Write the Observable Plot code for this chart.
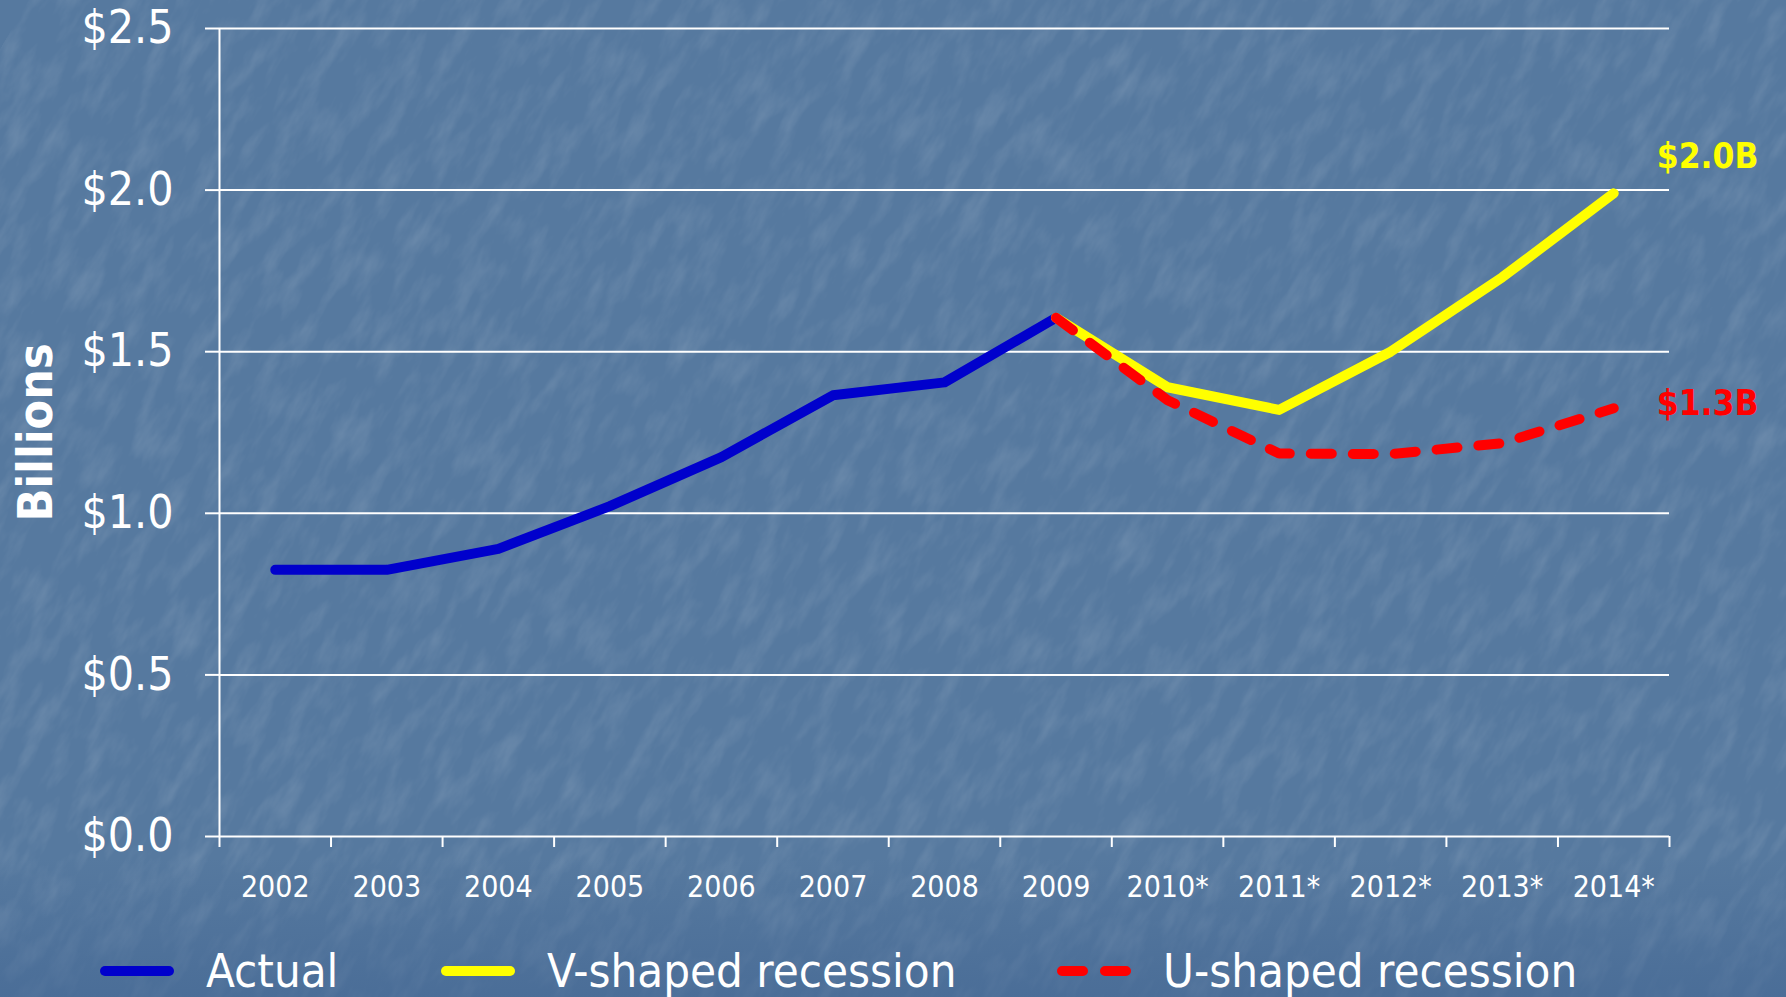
<!DOCTYPE html>
<html><head><meta charset="utf-8">
<script src="https://cdn.jsdelivr.net/npm/d3@7"></script>
<script src="https://cdn.jsdelivr.net/npm/@observablehq/plot@0.6"></script>
<style>
html,body{margin:0;padding:0;}
body{width:1786px;height:997px;overflow:hidden;position:relative;background:#5a7ca4;font-family:"DejaVu Sans Condensed","DejaVu Sans",sans-serif;font-stretch:condensed;}
#bg{position:absolute;left:0;top:0;}
#chart{position:absolute;left:0;top:0;}
#legend{position:absolute;left:0;top:930px;width:1786px;height:67px;}
.item{position:absolute;top:0;height:67px;}
.item svg{position:absolute;left:0;top:31px;}
.item span{position:absolute;top:17px;left:106px;white-space:nowrap;color:#fff;font-size:47px;line-height:1;}
</style></head><body>
<svg id="bg" width="1786" height="997">
<defs>
<filter id="tex" x="0" y="0" width="100%" height="100%">
<feTurbulence type="fractalNoise" baseFrequency="0.02 0.06" numOctaves="4" seed="7"/>
<feColorMatrix type="matrix" values="0 0 0 0 1  0 0 0 0 1  0 0 0 0 1  0 0 0 1.3 -0.55"/>
</filter>
<linearGradient id="fade" x1="0" y1="0" x2="0" y2="1">
<stop offset="0.86" stop-color="#3f6290" stop-opacity="0"/>
<stop offset="1" stop-color="#3f6290" stop-opacity="0.5"/>
</linearGradient>
</defs>
<rect width="1786" height="997" fill="#56799f"/>
<g transform="rotate(-60 893 498)"><rect x="-500" y="-500" width="2800" height="2000" filter="url(#tex)" opacity="0.17"/></g>
<rect width="1786" height="997" fill="url(#fade)"/>
</svg>
<div id="chart"></div>
<div id="legend"></div>
<script>
// ---- data ----
const years = ["2002","2003","2004","2005","2006","2007","2008","2009","2010*","2011*","2012*","2013*","2014*"];
const actual = [0.825, 0.825, 0.89, 1.022, 1.174, 1.365, 1.405, 1.605];          // 2002-2009
const forecastYears = ["2009","2010*","2011*","2012*","2013*","2014*"];
const vShaped = [1.605, 1.39, 1.32, 1.50, 1.73, 1.99];                            // 2009-2014*
const uShaped = [1.605, 1.35, 1.185, 1.183, 1.217, 1.325];                         // 2009-2014*
const yTicks = [0, 0.5, 1.0, 1.5, 2.0, 2.5];
const seriesNames = ["Actual", "V-shaped recession", "U-shaped recession"];
const seriesColors = ["#0000cc", "#ffff00", "#ff0000"];
const endLabels = ["$2.0B", "$1.3B"];
const yTitle = "Billions";

// ---- build rows ----
const xi = name => years.indexOf(name) + 0.5;
const actualRows = actual.map((v, i) => ({x: i + 0.5, y: v}));
const vRows = vShaped.map((v, i) => ({x: xi(forecastYears[i]), y: v}));
const uRows = uShaped.map((v, i) => ({x: xi(forecastYears[i]), y: v}));
const vEnd = [{...vRows[vRows.length - 1], label: endLabels[0]}];
const uEnd = [{...uRows[uRows.length - 1], label: endLabels[1]}];

const condensed = '"DejaVu Sans Condensed","DejaVu Sans",sans-serif';
const lineOpts = {x: "x", y: "y", strokeWidth: 10, strokeLinecap: "round", strokeLinejoin: "round"};

const plot = Plot.plot({
  width: 1786, height: 930,
  marginLeft: 219, marginRight: 117, marginTop: 28, marginBottom: 94,
  style: {background: "transparent", color: "#fff", fontFamily: condensed, overflow: "visible"},
  x: {domain: [0, years.length]},
  y: {domain: [0, 2.5]},
  marks: [
    Plot.gridY(yTicks, {stroke: "#fff", strokeOpacity: 1, strokeWidth: 2}),
    Plot.axisY(yTicks, {tickSize: 14, tickPadding: 32, strokeWidth: 2, fontSize: 46,
      tickFormat: d => "$" + d.toFixed(1), label: null}),
    Plot.ruleX([0], {stroke: "#fff", strokeWidth: 2}),
    Plot.axisX(d3.range(years.length + 1), {tickSize: 11, strokeWidth: 2, tickFormat: () => "", label: null}),
    Plot.axisX(years.map((d, i) => i + 0.5), {tickSize: 0, tickPadding: 39, fontSize: 30,
      tickFormat: d => years[Math.floor(d)], label: null}),
    Plot.text([yTitle], {frameAnchor: "left", textAnchor: "middle", lineAnchor: "middle", rotate: -90, dx: -183,
      fontSize: 48, fontWeight: "bold", fill: "#fff"}),
    Plot.line(actualRows, {...lineOpts, stroke: seriesColors[0]}),
    Plot.line(vRows, {...lineOpts, stroke: seriesColors[1]}),
    Plot.line(uRows, {...lineOpts, stroke: seriesColors[2], strokeDasharray: "21,21"}),
    Plot.text(vEnd, {x: "x", y: "y", text: "label", fill: seriesColors[1], dx: 43, dy: -37, textAnchor: "start",
      fontSize: 35, fontWeight: "bold", fontFamily: '"DejaVu Sans",sans-serif'}),
    Plot.text(uEnd, {x: "x", y: "y", text: "label", fill: seriesColors[2], dx: 43, dy: -4, textAnchor: "start",
      fontSize: 35, fontWeight: "bold", fontFamily: '"DejaVu Sans",sans-serif'})
  ]
});
document.getElementById("chart").append(plot);

// ---- legend ----
const legendLeft = [100, 441, 1057];
const legend = d3.select("#legend");
seriesNames.forEach((name, i) => {
  const item = legend.append("div").attr("class", "item").style("left", legendLeft[i] + "px");
  const s = item.append("svg").attr("width", 74).attr("height", 20);
  s.append("line").attr("x1", 5).attr("x2", 69).attr("y1", 10).attr("y2", 10)
    .attr("stroke", seriesColors[i]).attr("stroke-width", 10).attr("stroke-linecap", "round")
    .attr("stroke-dasharray", i === 2 ? "21,22" : null);
  item.append("span").text(name);
});
</script>
</body></html>
